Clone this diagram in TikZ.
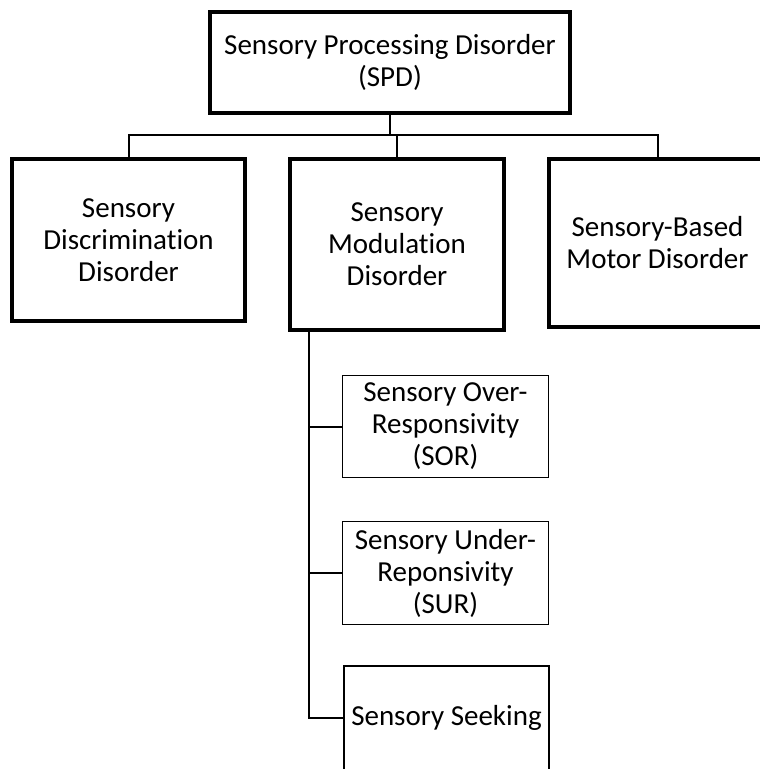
\documentclass[tikz,border=0pt]{standalone}
\usepackage{fontspec}
\setmainfont{Carlito}[Ligatures=NoCommon]
\begin{document}
\begin{tikzpicture}[x=1pt,y=1pt,
  txt/.style={align=center,inner sep=0pt,font=\fontsize{29}{32}\selectfont},
  thickbox/.style={txt,draw,line width=4pt},
  thinbox/.style={txt,draw,line width=1.6pt},
  conn/.style={line width=2pt},
  stemline/.style={line width=2.6pt}]
\useasboundingbox (0,0) rectangle (760,-769);
\clip (0,0) rectangle (760,-769);
\node[thickbox,minimum width=360pt,minimum height=101pt] (spd) at (390,-62.5) {Sensory Processing Disorder\\(SPD)};
\node[thickbox,minimum width=233pt,minimum height=162pt] (disc) at (128.5,-240) {Sensory\\Discrimination\\Disorder};
\node[thickbox,minimum width=214pt,minimum height=171pt] (mod) at (397,-244.5) {Sensory\\Modulation\\Disorder};
\node[thickbox,minimum width=217pt,minimum height=168pt] (motor) at (657.5,-243) {Sensory-Based\\Motor Disorder};
\node[thinbox,minimum width=206pt,minimum height=102pt] (sor) at (445.5,-426.5) {Sensory Over-\\Responsivity\\(SOR)};
\node[thinbox,minimum width=206pt,minimum height=103pt] (sur) at (445.5,-573) {Sensory Under-\\Reponsivity\\(SUR)};
\node[thinbox,minimum width=205pt,minimum height=104pt] (seek) at (446.5,-718) {Sensory Seeking};
\coordinate (bus) at (390,-135);
\coordinate (st) at ([xshift=21pt]mod.south west);
\draw[stemline] (spd.south) -- (spd.south |- bus);
\draw[conn] (disc.north) -- (disc.north |- bus) -- (motor.north |- bus) -- (motor.north);
\draw[conn] (mod.north) -- (mod.north |- bus);
\draw[stemline] (st) -- (st |- seek.west) -- (seek.west);
\draw[conn] (st |- sor.west) -- (sor.west);
\draw[conn] (st |- sur.west) -- (sur.west);
\end{tikzpicture}
\end{document}
